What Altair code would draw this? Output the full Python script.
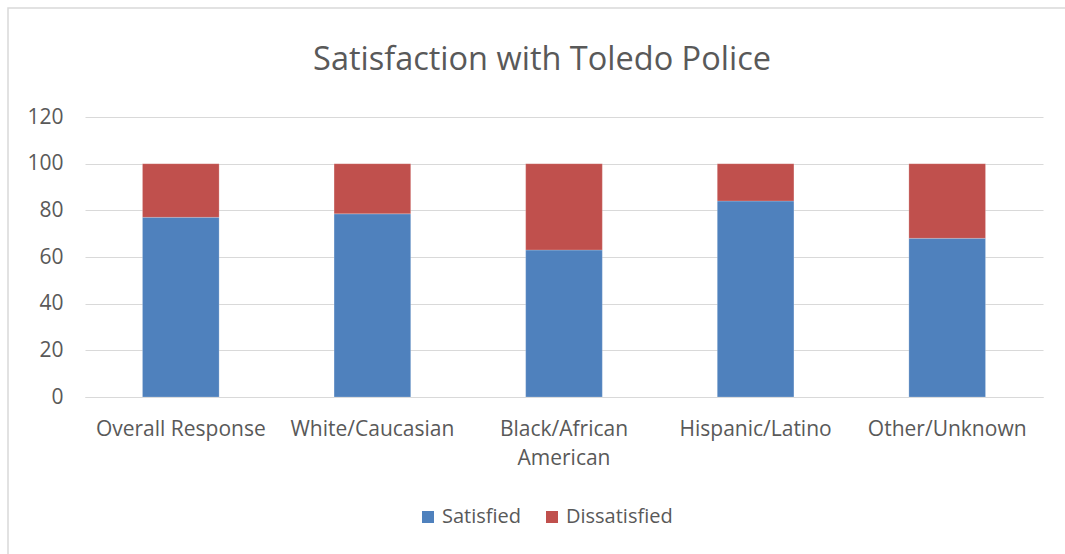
import altair as alt
import pandas as pd

categories = ["Overall Response", "White/Caucasian", "Black/African American", "Hispanic/Latino", "Other/Unknown"]
satisfied = [77, 78.5, 63, 84, 68]
dissatisfied = [23, 21.5, 37, 16, 32]
series = ["Satisfied", "Dissatisfied"]
colors = ["#4F81BD", "#C0504D"]
y_ticks = [0, 20, 40, 60, 80, 100, 120]
title_text = "Satisfaction with Toledo Police"

rows = []
for c, s, d in zip(categories, satisfied, dissatisfied):
    rows.append({"cat": c, "series": "Satisfied", "value": s, "order": 0})
    rows.append({"cat": c, "series": "Dissatisfied", "value": d, "order": 1})
df = pd.DataFrame(rows)

FONT = "Open Sans"
GREY = "#595959"

label_expr = "datum.value == 'Black/African American' ? ['Black/African', 'American'] : datum.value"

bars = alt.Chart(df).mark_bar(stroke="white", strokeWidth=0.5, strokeOpacity=0.4).encode(
    x=alt.X("cat:N", sort=categories, title=None,
            scale=alt.Scale(paddingInner=0.6, paddingOuter=0.3),
            axis=alt.Axis(labelAngle=0, labelExpr=label_expr, labelFont=FONT, labelFontSize=21,
                          labelColor=GREY, labelPadding=21, labelLineHeight=29, ticks=False,
                          domainColor="#d9d9d9", labelBaseline="top")),
    y=alt.Y("value:Q", stack="zero", title=None,
            scale=alt.Scale(domain=[0, 120]),
            axis=alt.Axis(values=y_ticks, labelFont=FONT, labelFontSize=21, labelColor=GREY,
                          domain=False, ticks=False, labelPadding=22, gridColor="#d9d9d9")),
    color=alt.Color("series:N", sort=series, scale=alt.Scale(domain=series, range=colors),
                    legend=alt.Legend(title=None, orient="none", direction="horizontal",
                                      legendX=333, legendY=390, symbolType="square",
                                      symbolSize=144, symbolStrokeWidth=0, labelFont=FONT,
                                      labelFontSize=20, labelColor=GREY, columnPadding=20,
                                      labelOffset=4)),
    order=alt.Order("order:Q"),
)

border = alt.Chart(pd.DataFrame({"a": [0]})).mark_rect(
    fill=None, stroke="#d9d9d9", strokeWidth=1.5, clip=False
).encode(
    x=alt.value(-77), x2=alt.value(1000), y=alt.value(-109), y2=alt.value(460)
)

title = alt.Chart(pd.DataFrame({"t": [title_text]})).mark_text(
    font=FONT, fontSize=32.5, color=GREY, align="center", baseline="middle"
).encode(
    text="t:N", x=alt.value(457), y=alt.value(-57)
)

chart = alt.layer(border, bars, title).properties(
    width=958, height=280,
    autosize="none",
    background="white",
    padding={"left": 85, "top": 117, "right": 22, "bottom": 157},
).configure_view(strokeWidth=0, stroke="transparent")

chart.save("out.html", embed_options={"renderer": "svg", "actions": False})
